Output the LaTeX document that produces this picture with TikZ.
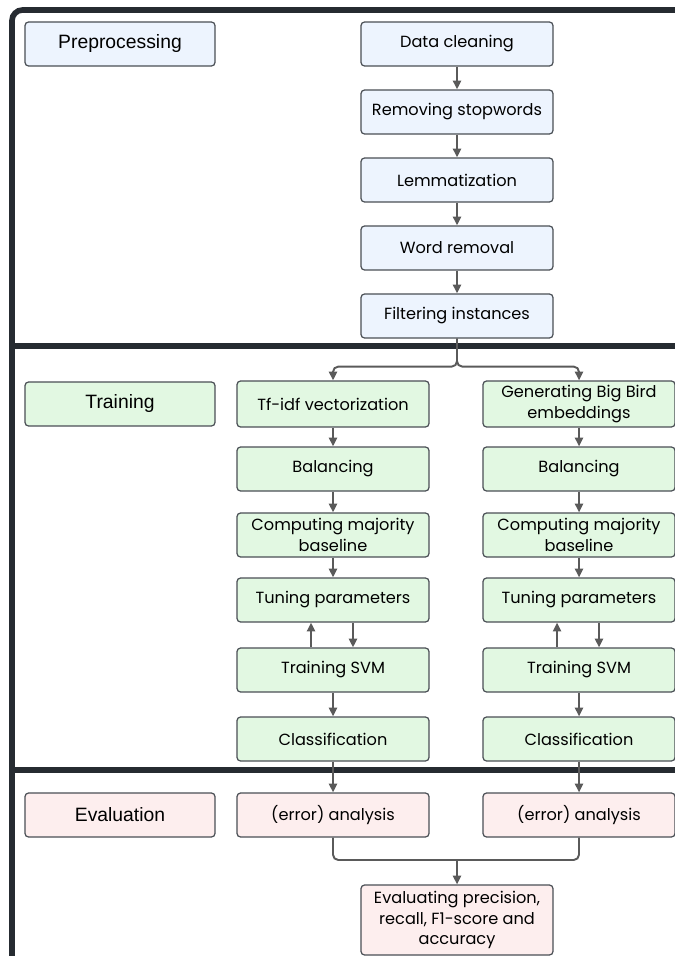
\documentclass[tikz,border=0pt]{standalone}
\usepackage{fontspec}
\setmainfont{Poppins}
\setsansfont{Liberation Sans}
\usetikzlibrary{arrows.meta}

\definecolor{laneline}{HTML}{262B31}
\definecolor{boxline}{HTML}{4A4F55}
\definecolor{flowline}{HTML}{5A5A5A}
\definecolor{prefill}{HTML}{EDF4FE}
\definecolor{trainfill}{HTML}{E2F8E2}
\definecolor{evalfill}{HTML}{FDEEEE}

\tikzset{
    box/.style={draw=boxline, line width=0.7pt, rounded corners=2pt,
        minimum width=3.84cm, minimum height=0.88cm, inner sep=1pt,
        align=center, font=\fontsize{9.2}{11.6}\selectfont},
    lanelabel/.style={box, minimum width=3.8cm, font=\sffamily\fontsize{11}{13}\selectfont},
    lane/.style={draw=laneline, line width=3.2pt},
    flow/.style={draw=flowline, line width=1.1pt}
}

\begin{document}
\begin{tikzpicture}[x=0.02cm, y=-0.02cm, >={Triangle[length=5pt,width=4.6pt]}]
    \useasboundingbox (0,0) rectangle (675,956);

    % 1. Lanes
    \draw[lane, rounded corners=6pt] (680,10) -- (12,10) -- (12,962);
    \draw[lane] (12,346) -- (680,346);
    \draw[lane] (12,770) -- (680,770);

    % 2. Lane labels
    \node[lanelabel, fill=prefill] (prelabel) at (120,44) {Preprocessing};
    \node[lanelabel, fill=trainfill] (trainlabel) at (120,404) {Training};
    \node[lanelabel, fill=evalfill] (evallabel) at (120,815) {Evaluation};

    % 3. Preprocessing steps
    \node[box, fill=prefill] (clean) at (457,44) {Data cleaning};
    \node[box, fill=prefill] (stop) at (457,112) {Removing stopwords};
    \node[box, fill=prefill] (lemma) at (457,180) {Lemmatization};
    \node[box, fill=prefill] (word) at (457,248) {Word removal};
    \node[box, fill=prefill] (filter) at (457,316) {Filtering instances};

    \foreach \a/\b in {clean/stop, stop/lemma, lemma/word, word/filter}
        \draw[flow, ->] (\a) -- (\b);

    % 4. Training, left branch (tf-idf)
    \node[box, fill=trainfill, minimum height=0.92cm] (tfidf) at (333,404) {Tf-idf vectorization};
    \node[box, fill=trainfill] (balA) at (333,469) {Balancing};
    \node[box, fill=trainfill] (baseA) at (333,535) {Computing majority\\baseline};
    \node[box, fill=trainfill] (tuneA) at (333,600) {Tuning parameters};
    \node[box, fill=trainfill] (svmA) at (333,670) {Training SVM};
    \node[box, fill=trainfill] (classA) at (333,739) {Classification};

    % Training, right branch (Big Bird)
    \node[box, fill=trainfill, minimum height=0.92cm] (bird) at (579,404) {Generating Big Bird\\embeddings};
    \node[box, fill=trainfill] (balB) at (579,469) {Balancing};
    \node[box, fill=trainfill] (baseB) at (579,535) {Computing majority\\baseline};
    \node[box, fill=trainfill] (tuneB) at (579,600) {Tuning parameters};
    \node[box, fill=trainfill] (svmB) at (579,670) {Training SVM};
    \node[box, fill=trainfill] (classB) at (579,739) {Classification};

    \draw[flow, ->, rounded corners=3pt] (filter.south) -- ++(0,28) -| (tfidf.north);
    \draw[flow, ->, rounded corners=3pt] (filter.south) -- ++(0,28) -| (bird.north);
    \draw[flow, ->] (tfidf) -- (balA);
    \draw[flow, ->] (bird) -- (balB);

    \foreach \s in {A, B} {
        \draw[flow, ->] (bal\s) -- (base\s);
        \draw[flow, ->] (base\s) -- (tune\s);
        \draw[flow, ->] ([xshift=-0.44cm]svm\s.north) -- ([xshift=-0.44cm]tune\s.south);
        \draw[flow, ->] ([xshift=0.4cm]tune\s.south) -- ([xshift=0.4cm]svm\s.north);
        \draw[flow, ->] (svm\s) -- (class\s);
    }

    % 5. Evaluation
    \node[box, fill=evalfill] (errA) at (333,815) {(error) analysis};
    \node[box, fill=evalfill] (errB) at (579,815) {(error) analysis};
    \node[box, fill=evalfill, minimum height=1.4cm] (final) at (457,920)
        {Evaluating precision,\\recall, F1-score and\\accuracy};

    \draw[flow, ->] (classA) -- (errA);
    \draw[flow, ->] (classB) -- (errB);

    \coordinate (merge) at (457,860);
    \draw[flow, rounded corners=3pt] (errA.south) |- (merge) -| (errB.south);
    \draw[flow, ->] (merge) -- (final);

\end{tikzpicture}
\end{document}
